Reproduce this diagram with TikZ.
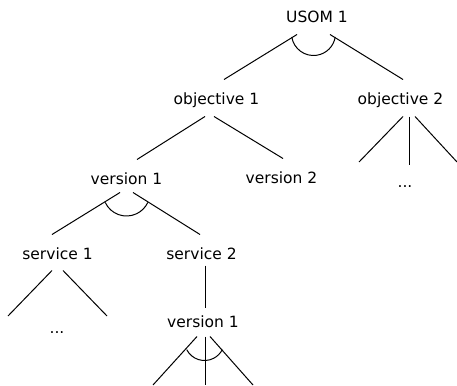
\documentclass[tikz,border=0pt]{standalone}
\usepackage{fontspec}
\setmainfont{DejaVu Sans}
\tikzset{lbl/.style={font=\fontsize{15.5}{18}\selectfont, text height=12pt, text depth=4pt,
  inner xsep=0pt, inner ysep=7pt, anchor=base}}
\begin{document}
\begin{tikzpicture}[x=1pt, y=1pt, line width=1pt]
        \useasboundingbox (0,0) rectangle (457,-385);
        \node[lbl] (usom) at (317,-23) {USOM 1};
        \node[lbl] (obj1) at (216.5,-105) {objective 1};
        \node[lbl] (obj2) at (400.5,-105) {objective 2};
        \node[lbl] (ver1) at (126.5,-184) {version 1};
        \node[lbl] (ver2) at (281.5,-183) {version 2};
        \node[lbl] (dotsb) at (405,-187) {...};
        \node[lbl] (ser1) at (57.5,-259) {service 1};
        \node[lbl] (ser2) at (201.5,-259) {service 2};
        \node[lbl] (dotsa) at (57,-333) {...};
        \node[lbl] (ver3) at (203,-327) {version 1};

        \coordinate (o2a) at (359,-162);
        \coordinate (o2b) at (409,-165);
        \coordinate (o2c) at (457,-162);
        \coordinate (s1a) at (8,-316);
        \coordinate (s1b) at (107,-316);
        \coordinate (v3a) at (153,-385);
        \coordinate (v3b) at (205,-385);
        \coordinate (v3c) at (253,-385);

        \draw ([xshift=-20pt]usom.south) -- ([xshift=7.5pt,yshift=6pt]obj1.north);
        \draw ([xshift=13pt]usom.south) -- ([xshift=2.5pt,yshift=6pt]obj2.north);
        \draw ([xshift=-3.5pt,yshift=1pt]usom.south) ++(189:22) arc[start angle=189, end angle=351, radius=22];

        \draw ([xshift=-11.5pt]obj1.south) -- ([xshift=10.5pt,yshift=5pt]ver1.north);
        \draw ([xshift=-2.5pt]obj1.south) -- ([xshift=1.5pt,yshift=5pt]ver2.north);

        \draw ([xshift=2.5pt]obj2.south) -- (o2a);
        \draw ([xshift=8.5pt]obj2.south) -- (o2b);
        \draw ([xshift=14.5pt]obj2.south) -- (o2c);

        \draw ([xshift=-6.5pt,yshift=3pt]ver1.south) -- ([xshift=-5.5pt,yshift=5pt]ser1.north);
        \draw ([xshift=6.5pt,yshift=3pt]ver1.south) -- ([xshift=-1.5pt,yshift=5pt]ser2.north);
        \draw ([yshift=3pt]ver1.south) ++(205:23.5) arc[start angle=205, end angle=335, radius=23.5];

        \draw ([xshift=-5.5pt]ser1.south) -- (s1a);
        \draw ([xshift=5.5pt]ser1.south) -- (s1b);

        \draw ([xshift=3.5pt,yshift=5pt]ser2.south) -- ([xshift=2pt]ver3.north);

        \draw ([xshift=-6pt,yshift=2pt]ver3.south) -- (v3a);
        \draw ([xshift=2pt,yshift=2pt]ver3.south) -- (v3b);
        \draw ([xshift=7pt,yshift=2pt]ver3.south) -- (v3c);
        \draw ([xshift=1.5pt,yshift=-2pt]ver3.south) ++(207:20) arc[start angle=207, end angle=333, radius=20];
\end{tikzpicture}
\end{document}
